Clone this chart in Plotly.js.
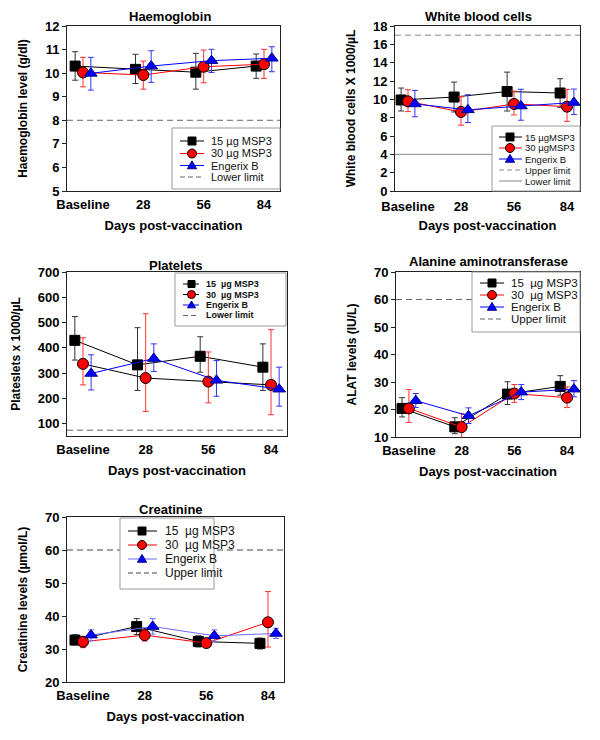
<!DOCTYPE html>
<html>
<head>
<meta charset="utf-8">
<script src="https://cdn.plot.ly/plotly-3.0.1.min.js"></script>
<style>html,body{margin:0;padding:0;background:#fff}#chart{width:600px;height:740px}</style>
</head>
<body>
<div id="chart"></div>
<script>
// ---------------- DATA ----------------
const categories = ['Baseline', '28', '56', '84'];
const seriesNames = ['15 µg MSP3', '30 µg MSP3', 'Engerix B'];

// Haemoglobin (g/dl)
const hb15 = [10.30, 10.16, 10.04, 10.30];
const hb15Hi = [10.91, 10.80, 10.84, 10.81];
const hb15Lo = [9.70, 9.56, 9.32, 9.78];
const hb30 = [10.03, 9.92, 10.27, 10.38];
const hb30Hi = [10.67, 10.51, 10.98, 11.01];
const hb30Lo = [9.42, 9.32, 9.59, 9.78];
const hbEng = [9.99, 10.30, 10.53, 10.63];
const hbEngHi = [10.67, 10.95, 11.01, 11.12];
const hbEngLo = [9.28, 9.61, 10.03, 10.06];
const hbLowerLimit = 8;

// White blood cells (x1000/µL)
const wbc15 = [9.93, 10.25, 10.85, 10.69];
const wbc15Hi = [11.23, 11.88, 12.97, 12.25];
const wbc15Lo = [8.73, 8.62, 8.73, 9.13];
const wbc30 = [9.78, 8.62, 9.50, 9.20];
const wbc30Hi = [11.05, 10.28, 10.90, 11.08];
const wbc30Lo = [8.66, 7.18, 8.30, 7.60];
const wbcEng = [9.50, 8.85, 9.27, 9.65];
const wbcEngHi = [10.97, 10.50, 11.10, 11.12];
const wbcEngLo = [8.10, 7.47, 7.72, 8.35];
const wbcUpperLimit = 17;
const wbcLowerLimit = 4;

// Platelets (x1000/µL)
const plt15 = [430, 333, 367, 324];
const plt15Hi = [524, 480, 444, 416];
const plt15Lo = [352, 232, 304, 232];
const plt30 = [337, 281, 267, 254];
const plt30Hi = [440, 535, 384, 472];
const plt30Lo = [254, 149, 183, 136];
const pltEng = [299, 358, 272, 237];
const pltEngHi = [373, 416, 350, 324];
const pltEngLo = [234, 307, 209, 170];
const pltLowerLimit = 75;

// Alanine aminotransferase (IU/L)
const alt15 = [20.4, 13.7, 25.6, 28.4];
const alt15Hi = [24.3, 17.0, 30.1, 32.3];
const alt15Lo = [17.3, 11.2, 21.8, 25.2];
const alt30 = [20.4, 13.6, 25.8, 24.3];
const alt30Hi = [27.3, 18.5, 29.1, 28.2];
const alt30Lo = [15.3, 8.6, 22.6, 20.7];
const altEng = [23.2, 17.7, 26.3, 27.4];
const altEngHi = [25.8, 20.6, 29.1, 30.5];
const altEngLo = [20.7, 14.9, 23.6, 24.6];
const altUpperLimit = 60;

// Creatinine (µmol/L)
const cr15 = [32.7, 36.8, 32.3, 31.7];
const cr15Hi = [34.3, 39.2, 34.0, 33.3];
const cr15Lo = [31.3, 34.4, 30.6, 30.0];
const cr30 = [32.2, 34.2, 31.8, 38.1];
const cr30Hi = [33.8, 36.0, 32.9, 47.4];
const cr30Lo = [30.4, 32.4, 30.8, 30.6];
const crEng = [34.2, 36.8, 34.0, 34.7];
const crEngHi = [35.8, 39.2, 35.8, 36.3];
const crEngLo = [32.5, 34.5, 32.3, 33.2];
const crUpperLimit = 60;

// ---------------- STYLE / LAYOUT ----------------
const W = 600, H = 740;
const fx = p => p / W;
const fy = p => 1 - p / H;
const FONT = 'Liberation Sans, Arial, Helvetica, sans-serif';
const offsets = [-0.13, 0, 0.13];
const symbols = ['square', 'circle', 'triangle-up'];
const markerColors = ['#000000', '#ff0000', '#0000ff'];
const markerLine = ['#000000', '#000000', '#00008b'];

const panels = [
  {
    title: 'Haemoglobin', ytitle: 'Haemoglobin level (g/dl)',
    yrange: [5, 12], dtick: 1, xrange: [-0.265, 3.265], xlabelGap: 1,
    box: [67, 26, 280, 191], titlePos: [170, 17],
    data: [[hb15, hb15Hi, hb15Lo], [hb30, hb30Hi, hb30Lo], [hbEng, hbEngHi, hbEngLo]],
    lineColors: ['#000000', '#ff0000', '#0000ff'],
    errColors: ['#333333', '#ff3333', '#3333ff'],
    limits: [{v: hbLowerLimit, dash: '6px,4px', color: '#666666', name: 'Lower limit'}],
    legend: {box: [172, 128, 280, 189], ys: [141, 153.5, 165.5, 177], lx: [180, 204], mx: 192, tx: 210,
             size: 11, bold: false, ms: 8,
             labels: ['15 µg MSP3', '30 µg MSP3', 'Engerix B', 'Lower limit']}
  },
  {
    title: 'White blood cells', ytitle: 'White blood cells X 1000/µL',
    yrange: [0, 18], dtick: 2, xrange: [-0.245, 3.245], xlabelGap: 3,
    box: [395, 26, 580, 191], titlePos: [478, 16],
    data: [[wbc15, wbc15Hi, wbc15Lo], [wbc30, wbc30Hi, wbc30Lo], [wbcEng, wbcEngHi, wbcEngLo]],
    lineColors: ['#000000', '#ff0000', '#0000ff'],
    errColors: ['#333333', '#ff3333', '#3333ff'],
    limits: [{v: wbcUpperLimit, dash: '6px,4px', color: '#888888', name: 'Upper limit'},
             {v: wbcLowerLimit, dash: 'solid', color: '#888888', name: 'Lower limit'}],
    legend: {box: [492, 126, 580, 191], ys: [137, 148, 159, 170, 181], lx: [499, 522], mx: 510, tx: 524,
             size: 9.5, bold: false, ms: 8,
             labels: ['15 µgMSP3', '30 µgMSP3', 'Engerix B', 'Upper limit', 'Lower limit']}
  },
  {
    title: 'Platelets', ytitle: 'Plateslets x 1000/µL',
    yrange: [52, 700], dtick: 100, tick0: 0, xrange: [-0.255, 3.255], xlabelGap: 1,
    box: [67, 272, 287, 436], titlePos: [175, 265],
    data: [[plt15, plt15Hi, plt15Lo], [plt30, plt30Hi, plt30Lo], [pltEng, pltEngHi, pltEngLo]],
    lineColors: ['#000000', '#000000', '#0000ff'],
    errColors: ['#333333', '#ff3333', '#3333ff'],
    limits: [{v: pltLowerLimit, dash: '6px,4px', color: '#666666', name: 'Lower limit'}],
    legend: {box: [175, 273, 286, 326], ys: [284, 294.5, 305, 315.5], lx: [183, 199], mx: 191.5, tx: 205,
             size: 9, bold: true, ms: 7,
             labels: ['15  µg MSP3', '30  µg MSP3', 'Engerix B', 'Lower limit']}
  },
  {
    title: 'Alanine aminotransferase', ytitle: 'ALAT levels (IU/L)',
    yrange: [10, 70], dtick: 10, xrange: [-0.245, 3.245], xlabelGap: 1,
    box: [396, 272, 580, 437], titlePos: [488, 262],
    data: [[alt15, alt15Hi, alt15Lo], [alt30, alt30Hi, alt30Lo], [altEng, altEngHi, altEngLo]],
    lineColors: ['#000000', '#ff0000', '#0000ff'],
    errColors: ['#333333', '#ff3333', '#3333ff'],
    limits: [{v: altUpperLimit, dash: '6px,4px', color: '#666666', name: 'Upper limit'}],
    legend: {box: [472, 272, 580, 332], ys: [283, 295, 307, 319], lx: [480, 504], mx: 492, tx: 510,
             size: 11.5, bold: false, ms: 8,
             labels: ['15  µg MSP3', '30  µg MSP3', 'Engerix B', 'Upper limit']}
  },
  {
    title: 'Creatinine', ytitle: 'Creatinine levels (µmol/L)',
    yrange: [20, 70], dtick: 10, xrange: [-0.26, 3.26], xlabelGap: 1,
    box: [67, 517, 284, 682], titlePos: [171, 509],
    data: [[cr15, cr15Hi, cr15Lo], [cr30, cr30Hi, cr30Lo], [crEng, crEngHi, crEngLo]],
    lineColors: ['#000000', '#ff0000', '#6a6aff'],
    errColors: ['#333333', '#ff3333', '#6a6aff'],
    limits: [{v: crUpperLimit, dash: '6px,4px', color: '#444444', name: 'Upper limit'}],
    legend: {box: [120, 518, 214, 589], ys: [531, 545, 559, 573], lx: [128, 157], mx: 142, tx: 164,
             size: 12, bold: false, ms: 8,
             labels: ['15  µg MSP3', '30  µg MSP3', 'Engerix B', 'Upper limit']}
  }
];

const traces = [];
const shapes = [];
const annotations = [];
const layout = {
  width: W, height: H,
  margin: {l: 0, r: 0, t: 0, b: 0},
  paper_bgcolor: '#ffffff', plot_bgcolor: '#ffffff',
  showlegend: false,
  font: {family: FONT, color: '#000000'}
};

function markerShape(sym, cx, cy, s, fill, line) {
  const h = s / 2;
  if (sym === 'square') {
    return {type: 'rect', xref: 'paper', yref: 'paper', x0: fx(cx - h), x1: fx(cx + h), y0: fy(cy + h), y1: fy(cy - h),
            fillcolor: fill, line: {color: line, width: 1}};
  }
  if (sym === 'circle') {
    return {type: 'circle', xref: 'paper', yref: 'paper', x0: fx(cx - h - 0.5), x1: fx(cx + h + 0.5), y0: fy(cy + h + 0.5), y1: fy(cy - h - 0.5),
            fillcolor: fill, line: {color: line, width: 1}};
  }
  const t = h * 1.15;
  const p = `M${fx(cx)},${fy(cy - t)} L${fx(cx + t)},${fy(cy + t * 0.7)} L${fx(cx - t)},${fy(cy + t * 0.7)} Z`;
  return {type: 'path', xref: 'paper', yref: 'paper', path: p, fillcolor: fill, line: {color: line, width: 1}};
}

panels.forEach((pn, k) => {
  const n = k + 1;
  const xa = 'x' + (n === 1 ? '' : n), ya = 'y' + (n === 1 ? '' : n);
  const xkey = 'xaxis' + (n === 1 ? '' : n), ykey = 'yaxis' + (n === 1 ? '' : n);
  const [bx0, by0, bx1, by1] = pn.box;

  layout[xkey] = {
    domain: [fx(bx0), fx(bx1)], anchor: ya, range: pn.xrange,
    tickmode: 'array', tickvals: categories.map((c, i) => i), ticktext: categories,
    ticks: '', showgrid: false, zeroline: false, ticklabelstandoff: pn.xlabelGap,
    showline: true, mirror: true, linecolor: '#222222', linewidth: 1,
    tickfont: {family: FONT, size: 13, weight: 700, color: '#000'},
    title: {text: 'Days post-vaccination', font: {family: FONT, size: 13, weight: 700, color: '#000'},
            standoff: 11 - pn.xlabelGap},
    fixedrange: true
  };
  layout[ykey] = {
    domain: [fy(by1), fy(by0)], anchor: xa, range: pn.yrange,
    dtick: pn.dtick, tick0: pn.tick0 !== undefined ? pn.tick0 : pn.yrange[0],
    ticks: 'outside', ticklen: 4, tickcolor: '#222222', tickwidth: 1,
    showgrid: false, zeroline: false,
    showline: true, mirror: true, linecolor: '#222222', linewidth: 1,
    tickfont: {family: FONT, size: 13, weight: 700, color: '#000'},
    title: {text: pn.ytitle, font: {family: FONT, size: 12, weight: 700, color: '#000'}, standoff: 14},
    fixedrange: true
  };

  pn.data.forEach((sd, s) => {
    const [mean, hi, lo] = sd;
    traces.push({
      type: 'scatter', mode: 'lines+markers', name: seriesNames[s],
      xaxis: xa, yaxis: ya,
      x: categories.map((c, i) => i + offsets[s]),
      y: mean,
      error_y: {type: 'data', symmetric: false,
                array: hi.map((v, i) => v - mean[i]),
                arrayminus: lo.map((v, i) => mean[i] - v),
                color: pn.errColors[s], thickness: 1, width: 3},
      line: {color: pn.lineColors[s], width: 1},
      marker: {symbol: symbols[s], size: s === 0 ? 10 : 11, color: markerColors[s],
               line: {color: markerLine[s], width: 1}},
      showlegend: false, hoverinfo: 'x+y'
    });
  });

  pn.limits.forEach(lm => {
    shapes.push({type: 'line', layer: 'below', xref: xa + ' domain', x0: 0, x1: 1, yref: ya, y0: lm.v, y1: lm.v,
                 line: {color: lm.color, width: 1, dash: lm.dash}});
  });

  annotations.push({text: pn.title, xref: 'paper', yref: 'paper', x: fx(pn.titlePos[0]), y: fy(pn.titlePos[1]),
                    xanchor: 'center', yanchor: 'middle', showarrow: false,
                    font: {family: FONT, size: 13, weight: 700, color: '#000'}});

  // legend drawn as a box
  const lg = pn.legend;
  shapes.push({type: 'rect', xref: 'paper', yref: 'paper', x0: fx(lg.box[0]), x1: fx(lg.box[2]), y0: fy(lg.box[3]), y1: fy(lg.box[1]),
               fillcolor: '#ffffff', line: {color: '#999999', width: 1}});
  lg.labels.forEach((lab, j) => {
    const yy = lg.ys[j];
    let col, dash, mk = null;
    if (j < 3) { col = pn.lineColors[j]; dash = 'solid'; mk = j; }
    else { const lm = pn.limits[j - 3]; col = lm.color; dash = lm.dash; }
    shapes.push({type: 'line', xref: 'paper', yref: 'paper', x0: fx(lg.lx[0]), x1: fx(lg.lx[1]), y0: fy(yy), y1: fy(yy),
                 line: {color: col, width: 1, dash: dash === '6px,4px' ? '5px,3px' : dash}});
    if (mk !== null) shapes.push(markerShape(symbols[mk], lg.mx, yy, lg.ms, markerColors[mk], markerLine[mk]));
    annotations.push({text: lab, xref: 'paper', yref: 'paper', x: fx(lg.tx), y: fy(yy), xanchor: 'left', yanchor: 'middle',
                      borderpad: 0, showarrow: false,
                      font: {family: FONT, size: lg.size, weight: lg.bold ? 700 : 400, color: '#111'}});
  });
});

layout.shapes = shapes;
layout.annotations = annotations;
Plotly.newPlot('chart', traces, layout, {staticPlot: true, displayModeBar: false});
</script>
</body>
</html>
